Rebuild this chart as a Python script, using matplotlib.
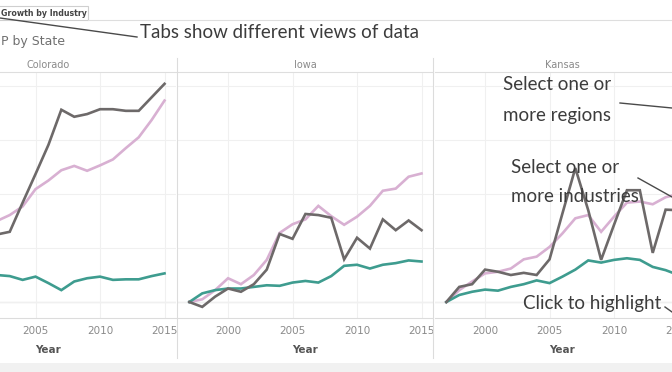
import numpy as np
import matplotlib
matplotlib.use("Agg")
import matplotlib.pyplot as plt
from matplotlib.lines import Line2D
from matplotlib.patches import Rectangle

# data (growth, one unit per gridline)
years = np.arange(1997, 2016)
states = ["Colorado", "Iowa", "Kansas"]

nan = np.nan
colorado_grey = [nan, nan, nan, nan, nan, 1.25, 1.30, 1.84, 2.37, 2.91, 3.56, 3.43,
                 3.48, 3.57, 3.57, 3.54, 3.54, 3.79, 4.04]
colorado_pink = [nan, nan, nan, nan, nan, 1.50, 1.61, 1.77, 2.09, 2.25, 2.44, 2.52,
                 2.43, 2.53, 2.64, 2.85, 3.05, 3.37, 3.73]
colorado_teal = [nan, nan, nan, nan, nan, 0.50, 0.48, 0.41, 0.47, 0.35, 0.22, 0.38,
                 0.44, 0.47, 0.41, 0.42, 0.42, 0.48, 0.53]

iowa_grey = [0, -0.09, 0.10, 0.25, 0.19, 0.33, 0.60, 1.26, 1.17, 1.63, 1.61, 1.56,
             0.79, 1.19, 0.99, 1.53, 1.33, 1.51, 1.33]
iowa_pink = [0, 0.05, 0.22, 0.44, 0.33, 0.50, 0.78, 1.28, 1.44, 1.53, 1.78, 1.59,
             1.43, 1.58, 1.78, 2.06, 2.10, 2.32, 2.38]
iowa_teal = [0, 0.16, 0.22, 0.25, 0.25, 0.28, 0.31, 0.30, 0.36, 0.39, 0.36, 0.48,
             0.67, 0.69, 0.62, 0.69, 0.72, 0.77, 0.75]

kansas_grey = [0, 0.28, 0.33, 0.60, 0.56, 0.50, 0.54, 0.50, 0.79, 1.64, 2.48, 1.70,
               0.78, 1.43, 2.07, 2.07, 0.91, 1.71, 1.70]
kansas_pink = [0, 0.22, 0.38, 0.53, 0.56, 0.62, 0.79, 0.84, 1.02, 1.27, 1.55, 1.61,
               1.30, 1.58, 1.84, 1.86, 1.81, 1.94, 2.00]
kansas_teal = [0, 0.13, 0.19, 0.23, 0.21, 0.28, 0.33, 0.40, 0.35, 0.47, 0.60, 0.77,
               0.73, 0.78, 0.81, 0.78, 0.65, 0.59, 0.50]

series = {
    "Colorado": [colorado_pink, colorado_teal, colorado_grey],
    "Iowa": [iowa_pink, iowa_teal, iowa_grey],
    "Kansas": [kansas_pink, kansas_teal, kansas_grey],
}
line_colors = ["#d8b0d2", "#3e9c8f", "#6d6969"]
xticks = {"Colorado": [2005, 2010, 2015],
          "Iowa": [2000, 2005, 2010, 2015],
          "Kansas": [2000, 2005, 2010, 2015]}

W, H = 672, 372
fig = plt.figure(figsize=(W / 100, H / 100), dpi=100)
fig.patch.set_facecolor("white")


def fx(x):
    return x / W


def fy(y):
    return 1 - y / H


# panels (pixel layout of the cropped dashboard)
panel_left = [-79, 178, 435]
panel_w = 255
top, bottom = 72, 318

for left, state in zip(panel_left, states):
    ax = fig.add_axes([fx(left), fy(bottom), panel_w / W, (bottom - top) / H])
    for vals, c in zip(series[state], line_colors):
        ax.plot(years, vals, color=c, lw=1.9, solid_joinstyle="miter")
    ax.set_xlim(1996.12, 2015.89)
    ax.set_ylim(-0.296, 4.259)
    ax.set_xticks(xticks[state])
    ax.set_yticks([0, 1, 2, 3, 4])
    ax.set_yticklabels([])
    ax.tick_params(axis="y", length=0)
    ax.tick_params(axis="x", length=0, pad=6, labelsize=7.5, labelcolor="#8a8a8a")
    ax.grid(True, color="#f0f0f0", lw=0.8)
    ax.axhline(0, color="#dcdcdc", lw=0.9, zorder=0.5)
    ax.set_axisbelow(True)
    for side in ["left", "right"]:
        ax.spines[side].set_visible(False)
    ax.spines["top"].set_color("#dedede")
    ax.spines["bottom"].set_color("#dcdcdc")
    ax.set_xlabel("Year", fontsize=7.5, color="#555555", fontweight="bold", labelpad=6)
    ax.set_title(state, fontsize=7, color="#8a8a8a", pad=3)

# panel dividers
for x in [177, 433]:
    fig.add_artist(Line2D([fx(x), fx(x)], [fy(58), fy(358)], color="#dcdcdc", lw=0.8))

# bottom grey band
fig.add_artist(Rectangle((0, 0), 1, 9 / H, transform=fig.transFigure,
                         facecolor="#f1f1f1", edgecolor="none"))

# tab strip and title
fig.add_artist(Rectangle((fx(-5), fy(20)), 93 / W, 14 / H, transform=fig.transFigure,
                         facecolor="white", edgecolor="#cfcfcf", lw=0.8))
fig.add_artist(Line2D([fx(88), 1], [fy(20), fy(20)], color="#dedede", lw=0.8))
fig.text(fx(1), fy(13), "Growth by Industry", fontsize=5.7, color="#444444",
         fontweight="semibold", va="center", ha="left")
fig.text(fx(1), fy(42), "P by State", fontsize=9, color="#707070", va="center", ha="left")

# hand drawn style notes
note_font = dict(family=["Lato", "DejaVu Sans"], fontweight="normal", color="#3c3c3c",
                 va="center", ha="left")
fig.text(fx(140), fy(33), "Tabs show different views of data", fontsize=13.5, **note_font)
fig.add_artist(Line2D([fx(0), fx(137)], [fy(18), fy(37)], color="#4a4a4a", lw=1.0))

fig.text(fx(503), fy(85), "Select one or", fontsize=13.5, **note_font)
fig.text(fx(503), fy(115), "more regions", fontsize=13.5, **note_font)
fig.add_artist(Line2D([fx(620), fx(672)], [fy(103), fy(108)], color="#4a4a4a", lw=1.0))

fig.text(fx(511), fy(167), "Select one or", fontsize=13.5, **note_font)
fig.text(fx(511), fy(197), "more industries", fontsize=13.5, **note_font)
fig.add_artist(Line2D([fx(638), fx(672)], [fy(178), fy(197)], color="#4a4a4a", lw=1.0))

fig.text(fx(523), fy(303), "Click to highlight", fontsize=13.5, **note_font)
fig.add_artist(Line2D([fx(665), fx(672)], [fy(307), fy(312)], color="#4a4a4a", lw=1.0))

fig.savefig("out.png", dpi=100)
